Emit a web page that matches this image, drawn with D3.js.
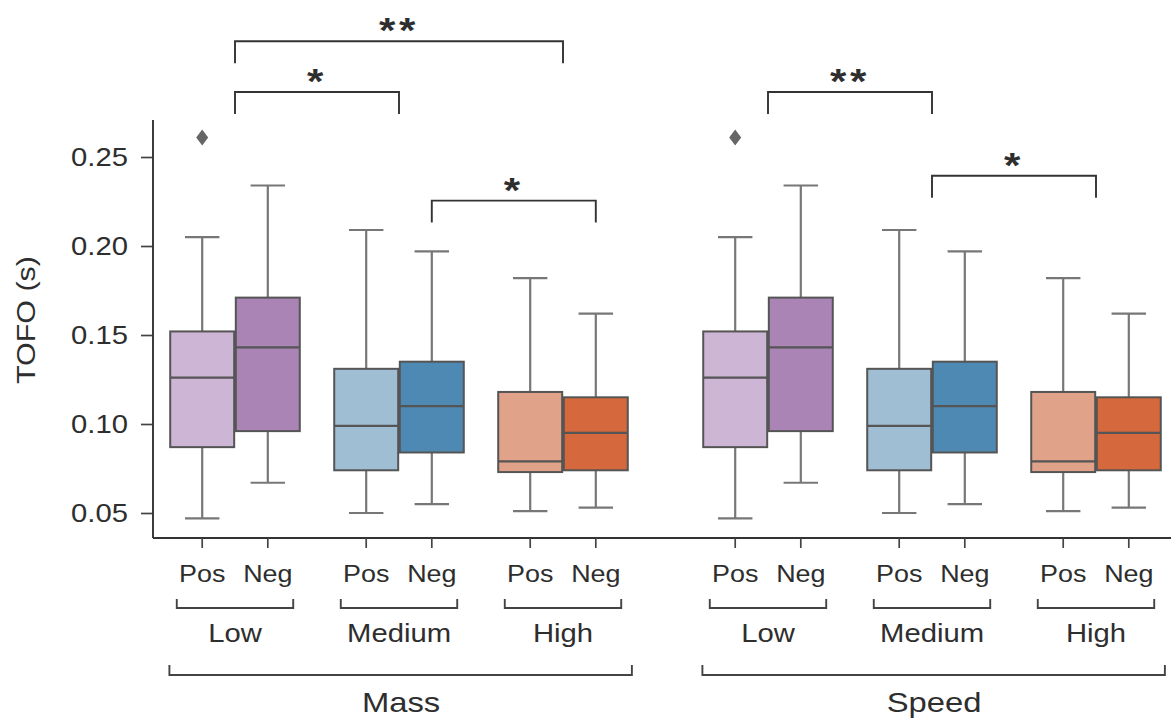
<!DOCTYPE html>
<html>
<head>
<meta charset="utf-8">
<script src="https://cdn.jsdelivr.net/npm/d3@7"></script>
<style>
  html, body { margin: 0; padding: 0; background: #fff; }
  svg { display: block; }
  text { font-family: "Liberation Sans", Arial, sans-serif; fill: #2e2e2e; }
</style>
</head>
<body>
<svg id="chart" width="1171" height="721"></svg>
<script>
// ---------------- DATA ----------------
const panels = ["Mass", "Speed"];
const levels = ["Low", "Medium", "High"];
const signs = ["Pos", "Neg"];
const yTicks = [0.05, 0.10, 0.15, 0.20, 0.25];

// order: Low-Pos, Low-Neg, Medium-Pos, Medium-Neg, High-Pos, High-Neg
const massWhiskerLo = [0.047, 0.067, 0.050, 0.055, 0.051, 0.053];
const massQ1        = [0.087, 0.096, 0.074, 0.084, 0.073, 0.074];
const massMedian    = [0.126, 0.143, 0.099, 0.110, 0.079, 0.095];
const massQ3        = [0.152, 0.171, 0.131, 0.135, 0.118, 0.115];
const massWhiskerHi = [0.205, 0.234, 0.209, 0.197, 0.182, 0.162];
const massOutliers  = [[0.261], [], [], [], [], []];

const speedWhiskerLo = [0.047, 0.067, 0.050, 0.055, 0.051, 0.053];
const speedQ1        = [0.087, 0.096, 0.074, 0.084, 0.073, 0.074];
const speedMedian    = [0.126, 0.143, 0.099, 0.110, 0.079, 0.095];
const speedQ3        = [0.152, 0.171, 0.131, 0.135, 0.118, 0.115];
const speedWhiskerHi = [0.205, 0.234, 0.209, 0.197, 0.182, 0.162];
const speedOutliers  = [[0.261], [], [], [], [], []];

const boxColors = ["#cdb5d5", "#a984b4", "#9fbed4", "#4d89b2", "#e0a38a", "#d5683c"];

// significance brackets
const sigPanel     = ["Mass", "Mass", "Mass", "Speed", "Speed"];
const sigFromLevel = ["Low", "Low", "Medium", "Low", "Medium"];
const sigFromSign  = [null, null, "Neg", null, null];
const sigToLevel   = ["High", "Medium", "High", "Medium", "High"];
const sigToSign    = [null, null, "Neg", null, null];
const sigLabel     = ["**", "*", "*", "**", "*"];
const sigValue     = [0.315, 0.2865, 0.2255, 0.2865, 0.2395];

// ---------------- LAYOUT ----------------
const svg = d3.select("#chart");
const SX = 1.17; // horizontal text stretch of the original
const axisLeft = 153, axisBottom = 538, axisTop = 120;
const unit = 164;
const panelGap = 1.25;
const x = d3.scaleLinear()
  .domain([-0.5, -0.5 + (1171 - axisLeft) / unit])
  .range([axisLeft, 1171]);
const y = d3.scaleLinear().domain([0.05, 0.25]).range([513, 157]);

const hueOffset = {Pos: -0.2, Neg: 0.2};
function groupPos(panel, level) {
  return (panels.indexOf(panel) === 0 ? 0 : levels.length - 1 + panelGap) + levels.indexOf(level);
}
function addText(parent, tx, ty, str, size, anchor, extra) {
  const t = parent.append("text")
    .attr("transform", `translate(${tx},${ty}) ${extra || ""} scale(${SX},1)`)
    .attr("text-anchor", anchor || "middle").attr("font-size", size).text(str);
  return t;
}

const stats = {
  Mass: {lo: massWhiskerLo, q1: massQ1, med: massMedian, q3: massQ3, hi: massWhiskerHi, out: massOutliers},
  Speed: {lo: speedWhiskerLo, q1: speedQ1, med: speedMedian, q3: speedQ3, hi: speedWhiskerHi, out: speedOutliers}
};

const boxes = [];
panels.forEach(p => {
  levels.forEach((l, li) => {
    signs.forEach((s, si) => {
      const k = li * 2 + si;
      const st = stats[p];
      boxes.push({panel: p, level: l, sign: s, pos: groupPos(p, l) + hueOffset[s],
        lo: st.lo[k], q1: st.q1[k], med: st.med[k], q3: st.q3[k], hi: st.hi[k], out: st.out[k],
        color: boxColors[k]});
    });
  });
});

const boxW = 0.39 * unit;
const capW = 0.21 * unit;
const edge = "#555";
const whiskerCol = "#777";

// ---------------- AXES ----------------
const yAxis = d3.axisLeft(y).tickValues(yTicks).tickFormat(d3.format(".2f")).tickSize(12).tickPadding(0);
const gy = svg.append("g").attr("transform", `translate(${axisLeft},0)`).call(yAxis);
gy.select(".domain").remove();
gy.selectAll(".tick line").attr("stroke", "#444").attr("stroke-width", 1.7);
gy.selectAll(".tick text")
  .attr("x", 0).attr("dy", "0.35em")
  .attr("transform", `translate(-25,0) scale(${SX},1)`)
  .attr("font-size", 25).attr("fill", "#2e2e2e")
  .style("font-family", "'Liberation Sans', Arial, sans-serif");
svg.append("line").attr("x1", axisLeft).attr("x2", axisLeft).attr("y1", axisTop).attr("y2", axisBottom)
  .attr("stroke", "#333").attr("stroke-width", 1.9);
svg.append("line").attr("x1", axisLeft).attr("x2", 1171).attr("y1", axisBottom).attr("y2", axisBottom)
  .attr("stroke", "#333").attr("stroke-width", 1.9);

svg.append("text").attr("transform", `translate(35,320) rotate(-90) scale(${SX},1)`)
  .attr("text-anchor", "middle").attr("font-size", 26).text("TOFO (s)");

// x ticks
svg.selectAll(".xtick").data(boxes).enter().append("line")
  .attr("x1", d => x(d.pos)).attr("x2", d => x(d.pos))
  .attr("y1", axisBottom).attr("y2", axisBottom + 10)
  .attr("stroke", "#444").attr("stroke-width", 1.7);

boxes.forEach(d => addText(svg, x(d.pos), 582, d.sign, 23));

// group brackets
const groups = [];
panels.forEach(p => levels.forEach(l => groups.push({panel: p, level: l, pos: groupPos(p, l)})));
svg.selectAll(".gb").data(groups).enter().append("path")
  .attr("d", d => {
    const a = x(d.pos - 0.355), b = x(d.pos + 0.355);
    return `M${a},599 V608 H${b} V599`;
  })
  .attr("fill", "none").attr("stroke", "#444").attr("stroke-width", 1.9);
groups.forEach(d => addText(svg, x(d.pos), 642, d.level, 25));

// panel brackets
svg.selectAll(".pb").data(panels).enter().append("path")
  .attr("d", p => {
    const a = x(groupPos(p, "Low") - 0.4), b = x(groupPos(p, "High") + 0.42);
    return `M${a},665 V675 H${b} V665`;
  })
  .attr("fill", "none").attr("stroke", "#444").attr("stroke-width", 1.9);
panels.forEach(p => addText(svg, x(groupPos(p, "Medium")) + 2, 712, p, 28));

// ---------------- BOXES ----------------
const bg = svg.selectAll(".box").data(boxes).enter().append("g");
bg.append("line").attr("x1", d => x(d.pos)).attr("x2", d => x(d.pos))
  .attr("y1", d => y(d.hi)).attr("y2", d => y(d.q3)).attr("stroke", whiskerCol).attr("stroke-width", 2.2);
bg.append("line").attr("x1", d => x(d.pos)).attr("x2", d => x(d.pos))
  .attr("y1", d => y(d.q1)).attr("y2", d => y(d.lo)).attr("stroke", whiskerCol).attr("stroke-width", 2.2);
bg.append("line").attr("x1", d => x(d.pos) - capW / 2).attr("x2", d => x(d.pos) + capW / 2)
  .attr("y1", d => y(d.hi)).attr("y2", d => y(d.hi)).attr("stroke", whiskerCol).attr("stroke-width", 2.2);
bg.append("line").attr("x1", d => x(d.pos) - capW / 2).attr("x2", d => x(d.pos) + capW / 2)
  .attr("y1", d => y(d.lo)).attr("y2", d => y(d.lo)).attr("stroke", whiskerCol).attr("stroke-width", 2.2);
bg.append("rect").attr("x", d => x(d.pos) - boxW / 2).attr("width", boxW)
  .attr("y", d => y(d.q3)).attr("height", d => y(d.q1) - y(d.q3))
  .attr("fill", d => d.color).attr("stroke", edge).attr("stroke-width", 2);
bg.append("line").attr("x1", d => x(d.pos) - boxW / 2).attr("x2", d => x(d.pos) + boxW / 2)
  .attr("y1", d => y(d.med)).attr("y2", d => y(d.med)).attr("stroke", edge).attr("stroke-width", 2.2);
bg.each(function(d) {
  d3.select(this).selectAll(".out").data(d.out).enter().append("path")
    .attr("d", v => {
      const cx = x(d.pos), cy = y(v);
      return `M${cx},${cy - 8} L${cx + 6},${cy} L${cx},${cy + 8} L${cx - 6},${cy} Z`;
    })
    .attr("fill", "#666");
});

// ---------------- SIGNIFICANCE ----------------
const sigs = sigLabel.map((lab, i) => ({
  a: groupPos(sigPanel[i], sigFromLevel[i]) + (sigFromSign[i] ? hueOffset[sigFromSign[i]] : 0),
  b: groupPos(sigPanel[i], sigToLevel[i]) + (sigToSign[i] ? hueOffset[sigToSign[i]] : 0),
  label: lab, v: sigValue[i]
}));
svg.selectAll(".sig").data(sigs).enter().append("path")
  .attr("d", d => `M${x(d.a)},${y(d.v) + 22} V${y(d.v)} H${x(d.b)} V${y(d.v) + 22}`)
  .attr("fill", "none").attr("stroke", "#333").attr("stroke-width", 1.9);
sigs.forEach(d => {
  addText(svg, (x(d.a) + x(d.b)) / 2, y(d.v) + 1, d.label, 36)
    .attr("font-weight", "bold").attr("fill", "#222").attr("letter-spacing", 3);
});
</script>
</body>
</html>
